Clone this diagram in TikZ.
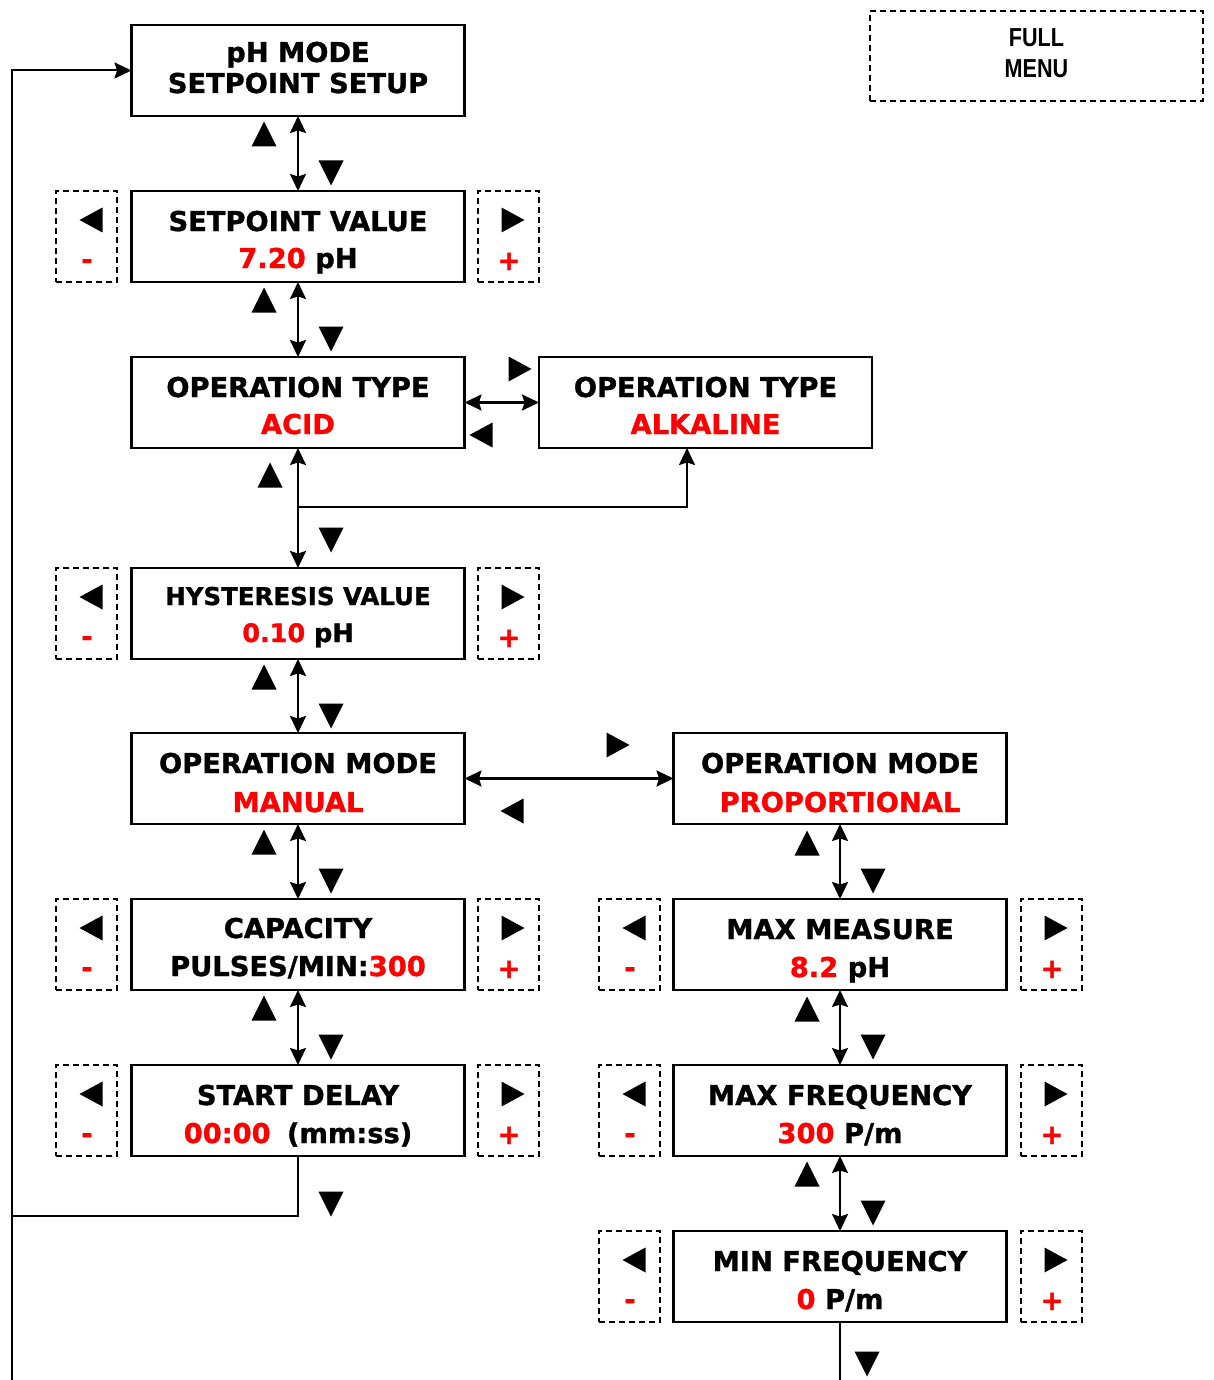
\documentclass[tikz,border=0pt]{standalone}
\usepackage{fontspec}
\newfontfamily\dvs{DejaVu Sans}[BoldFeatures={FakeBold=1.2}]
\newfontfamily\narrowf{Liberation Sans}[FakeStretch=0.83]
\usetikzlibrary{arrows.meta}
\newcommand\bxfont{\dvs\bfseries\fontsize{27.3}{32}\selectfont}
\newcommand\rd[1]{\textcolor{red}{#1}}
% #1 width, #2 height, #3 first baseline, #4 baseline gap, #5 line 1, #6 line 2
\newcommand\twol[6]{\vbox to #2pt{\offinterlineskip\kern#3pt\hbox to #1pt{\hss\smash{#5}\hss}\kern#4pt\hbox to #1pt{\hss\smash{#6}\hss}\vss}}
\newcommand\sidepair[4]{%
  \node[sidebox] (#1l) at (#2,#4) {};
  \node[sidebox] (#1r) at (#3,#4) {};
  \pic at ([shift={(4.5,-16.5)}]#1l.center) {trilt};
  \pic at ([shift={(4.5,-16.5)}]#1r.center) {trirt};
  \node[sign] (#1m) at ([shift={(0.5,32.5)}]#1l.center) {-};
  \node[sign] (#1p) at ([shift={(0.5,33.5)}]#1r.center) {+};
}
\begin{document}
\begin{tikzpicture}[x=1pt,y=-1pt,
  box/.style={draw, line width=2.2pt, inner sep=0pt, outer sep=0pt, font=\bxfont},
  sidebox/.style={draw, dash pattern=on 6pt off 4pt, line width=1.7pt, minimum width=61pt, minimum height=91pt, inner sep=0pt, outer sep=0pt},
  dbox/.style={draw, dash pattern=on 6pt off 4pt, line width=1.8pt, inner sep=0pt, outer sep=0pt, font=\narrowf\bfseries\fontsize{26}{31}\selectfont},
  sign/.style={inner sep=0pt, text height=0pt, text depth=0pt, text=red, font=\bxfont},
  line/.style={line width=1.9pt},
  tip/.tip={Stealth[length=17pt,width=16pt,inset=2.5pt]},
  dbl/.style={line width=2.1pt, tip-tip},
  arr/.style={line width=2pt, -tip},
  triup/.pic={\fill (-12.5,12.5) -- (12.5,12.5) -- (0,-12.5) -- cycle;},
  tridn/.pic={\fill (-12.5,-12.5) -- (12.5,-12.5) -- (0,12.5) -- cycle;},
  trilt/.pic={\fill (-11.5,0) -- (11.5,-12.5) -- (11.5,12.5) -- cycle;},
  trirt/.pic={\fill (11.5,0) -- (-11.5,-12.5) -- (-11.5,12.5) -- cycle;},
]
\useasboundingbox (0,0) rectangle (1214,1380);
\fill[white] (0,0) rectangle (1214,1380);

% main boxes
\node[box] (b1) at (298,70.5) {\twol{333}{91}{37}{31}{pH MODE}{SETPOINT SETUP}};
\node[box] (b2) at (298,236.5) {\twol{333}{91}{40}{37}{SETPOINT VALUE}{\rd{7.20} pH}};
\node[box] (b3) at (298,402.5) {\twol{333}{91}{40}{37}{OPERATION TYPE}{\rd{ACID}}};
\node[box] (b4) at (705.5,402.5) {\twol{333}{91}{40}{37}{OPERATION TYPE}{\rd{ALKALINE}}};
\node[box] (b5) at (298,613.5) {\twol{333}{91}{37}{37}{\fontsize{24.5}{30}\selectfont HYSTERESIS VALUE}{\fontsize{25.5}{30}\selectfont\rd{0.10} pH}};
\node[box] (b6) at (298,778.5) {\twol{333}{91}{40}{39}{OPERATION MODE}{\rd{MANUAL}}};
\node[box] (b7) at (840,778.5) {\twol{333}{91}{40}{39}{OPERATION MODE}{\rd{PROPORTIONAL}}};
\node[box] (b8) at (298,944.5) {\twol{333}{91}{39}{38}{CAPACITY}{PULSES/MIN:\rd{300}}};
\node[box] (b9) at (298,1110.5) {\twol{333}{91}{40}{38}{START DELAY}{\rd{00:00}\hspace{0.6em}(mm:ss)}};
\node[box] (b10) at (840,944.5) {\twol{333}{91}{40}{38}{MAX MEASURE}{\rd{8.2} pH}};
\node[box] (b11) at (840,1110.5) {\twol{333}{91}{40}{38}{MAX FREQUENCY}{\rd{300} P/m}};
\node[box] (b12) at (840,1276.5) {\twol{333}{91}{40}{38}{MIN FREQUENCY}{\rd{0} P/m}};

\node[dbox] (fm) at (1036.5,56) {\twol{333}{90}{36}{31}{FULL}{MENU}};

% side -/+ boxes
\sidepair{s2}{86.5}{508.5}{236.5}
\sidepair{s5}{86.5}{508.5}{613.5}
\sidepair{s8}{86.5}{508.5}{944.5}
\sidepair{s9}{86.5}{508.5}{1110.5}
\sidepair{s10}{629.5}{1051.5}{944.5}
\sidepair{s11}{629.5}{1051.5}{1110.5}
\sidepair{s12}{629.5}{1051.5}{1276.5}

% connectors
\draw[dbl] (b1.south) -- (b2.north);
\draw[dbl] (b2.south) -- (b3.north);
\draw[dbl] (b3.south) -- (b5.north);
\coordinate (j1) at (298,507);
\draw[arr] (j1) -| ([xshift=-18.5pt]b4.south);
\draw[dbl] (b3.east) -- (b4.west);
\draw[dbl] (b5.south) -- (b6.north);
\draw[dbl] (b6.east) -- (b7.west);
\draw[dbl] (b6.south) -- (b8.north);
\draw[dbl] (b8.south) -- (b9.north);
\draw[dbl] (b7.south) -- (b10.north);
\draw[dbl] (b10.south) -- (b11.north);
\draw[dbl] (b11.south) -- (b12.north);
\coordinate (jl) at (12,1216);
\coordinate (lb) at (12,1380);
\coordinate (rb) at (840,1380);
\draw[line] (b9.south) |- (jl);
\draw[arr] (lb) |- (b1.west);
\draw[line] (b12.south) -- (rb);

% key triangles
\pic at (264,134) {triup}; \pic at (331,173) {tridn};
\pic at (264,300) {triup}; \pic at (331,339) {tridn};
\pic at (270,475) {triup}; \pic at (331,540) {tridn};
\pic at (264,677) {triup}; \pic at (331,716) {tridn};
\pic at (264,842) {triup}; \pic at (331,881) {tridn};
\pic at (264,1008) {triup}; \pic at (331,1047) {tridn};
\pic at (331,1204) {tridn};
\pic at (807,843) {triup}; \pic at (873,881) {tridn};
\pic at (807,1009) {triup}; \pic at (873,1047) {tridn};
\pic at (807,1174) {triup}; \pic at (873,1213) {tridn};
\pic at (867,1364) {tridn};
\pic at (520,369) {trirt}; \pic at (481,435) {trilt};
\pic at (618,745) {trirt}; \pic at (512,811) {trilt};
\end{tikzpicture}
\end{document}
